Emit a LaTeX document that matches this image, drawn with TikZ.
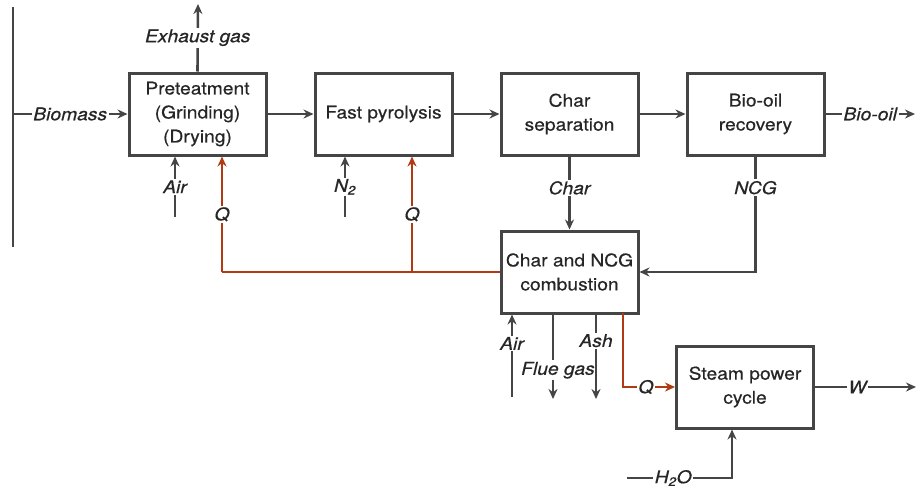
\documentclass[tikz,border=0pt]{standalone}
\usepackage{fontspec}
\setmainfont{TeX Gyre Heros}[FakeStretch=1.1,FakeBold=0.5]
\usetikzlibrary{arrows.meta,calc}
\definecolor{ln}{HTML}{454545}
\definecolor{heat}{HTML}{B03A12}
\begin{document}
\begin{tikzpicture}[x=1pt,y=-1pt,
  font=\fontsize{17.5}{24}\selectfont,
  box/.style={draw=ln,line width=3pt,minimum width=137pt,minimum height=82pt,align=center,inner sep=2pt,text=black!85},
  flow/.style={draw=ln,line width=2.6pt,-{Stealth[length=10pt,width=9pt]}},
  plain/.style={draw=ln,line width=2.4pt},
  hflow/.style={draw=heat,line width=2.6pt,-{Stealth[length=10pt,width=9pt]}},
  hplain/.style={draw=heat,line width=2.6pt},
  lab/.style={fill=white,inner sep=1.5pt,font=\fontsize{17.5}{20}\selectfont\itshape,text=black!85}]
\useasboundingbox (0,0) rectangle (917,488);
% boxes
\node[box] (pre) at (197.5,114) {Preteatment\\(Grinding)\\(Drying)};
\node[box] (fp) at (383.5,114) {Fast pyrolysis};
\node[box] (cs) at (569.5,114) {Char\\separation};
\node[box] (bo) at (755.5,114) {Bio-oil\\recovery};
\node[box] (comb) at (569.5,272) {Char and NCG\\combustion};
\node[box] (spc) at (745,387) {Steam power\\cycle};
% coordinates
\coordinate (lt) at (13,7);
\coordinate (lb) at (13,247);
\coordinate (bio0) at (13,114);
\coordinate (ex) at (198,4);
\coordinate (boout) at (915,114);
\coordinate (air1) at (175,217);
\coordinate (q1) at (222,272);
\coordinate (n2) at (345,217);
\coordinate (q2) at (412,272);
\coordinate (air2) at (512,397);
\coordinate (fg) at (553,399);
\coordinate (ash) at (596,399);
\coordinate (q3) at (623,313);
\coordinate (wout) at (916,387);
\coordinate (h2o) at (627,478);
\coordinate (h2ox) at (732,478);
% left line
\draw[plain] (lt) -- (lb);
% main flow
\draw[flow] (bio0) -- node[lab]{Biomass} (pre.west);
\draw[flow] (pre.north) -- node[lab]{Exhaust gas} (ex);
\draw[flow] (pre) -- (fp);
\draw[flow] (fp) -- (cs);
\draw[flow] (cs) -- (bo);
\draw[flow] (bo.east) -- node[lab]{Bio-oil} (boout);
% inputs
\draw[flow] (air1) -- node[lab]{Air} (air1 |- pre.south);
\draw[flow] (n2) -- node[lab]{N\textsubscript{2}} (n2 |- fp.south);
% heat
\draw[hplain] (comb.west) -- (q1);
\draw[hflow] (q1) -- node[lab]{Q} (q1 |- pre.south);
\draw[hflow] (q2) -- node[lab]{Q} (q2 |- fp.south);
% char and ncg
\draw[flow] (cs.south) -- node[lab,pos=0.43]{Char} (comb.north);
\draw[flow] (bo.south) -- node[lab,pos=0.27]{NCG} (bo.south |- comb.east) -- (comb.east);
% below combustion
\draw[flow] (air2) -- node[lab,pos=0.65]{Air} (air2 |- comb.south);
\draw[flow] (fg |- comb.south) -- node[lab,pos=0.66,xshift=5pt]{Flue gas} (fg);
\draw[flow] (ash |- comb.south) -- node[lab,pos=0.31]{Ash} (ash);
\draw[hflow] (q3) |- node[lab,pos=0.72]{Q} (spc.west);
% steam cycle
\draw[flow] (spc.east) -- node[lab,pos=0.42]{W} (wout);
\draw[flow] (h2o) -- node[lab,pos=0.44]{H\textsubscript{2}O} (h2ox) -- (h2ox |- spc.south);
\end{tikzpicture}
\end{document}
